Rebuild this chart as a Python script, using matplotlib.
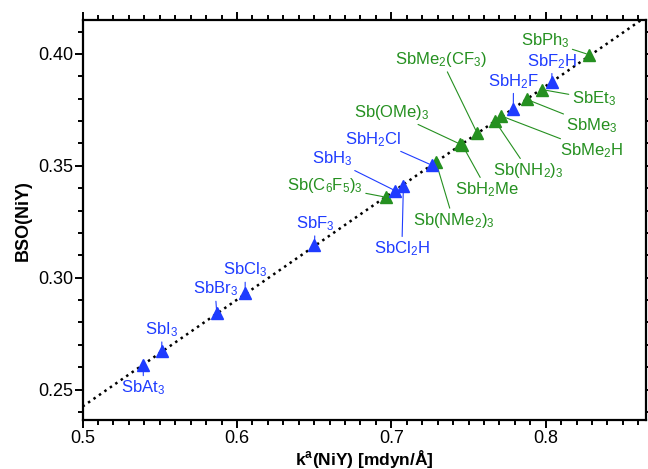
import numpy as np
import matplotlib
matplotlib.use('Agg')
import matplotlib.pyplot as plt
from matplotlib.ticker import MultipleLocator, FormatStrFormatter

plt.rcParams['font.family'] = ['Liberation Sans', 'DejaVu Sans']
plt.rcParams['mathtext.default'] = 'regular'
plt.rcParams['mathtext.fontset'] = 'custom'
plt.rcParams['mathtext.rm'] = 'Liberation Sans'
plt.rcParams['mathtext.bf'] = 'Liberation Sans:bold'

# blue set (halides / hydrides)
blue_names = ['SbF$_2$H', 'SbH$_2$F', 'SbH$_2$Cl', 'SbCl$_2$H', 'SbH$_3$',
              'SbF$_3$', 'SbCl$_3$', 'SbBr$_3$', 'SbI$_3$', 'SbAt$_3$']
blue_k = [0.804, 0.779, 0.7262, 0.7078, 0.7025, 0.6502, 0.6053, 0.5869, 0.5513, 0.5393]
blue_bso = [0.3876, 0.3752, 0.3503, 0.3409, 0.3389, 0.3145, 0.2930, 0.2841, 0.2671, 0.2609]
blue_lab_x = [0.804, 0.7791, 0.6884, 0.7068, 0.6614, 0.6506, 0.6053, 0.5858, 0.5513, 0.5393]
blue_lab_y = [0.3967, 0.3878, 0.3619, 0.3130, 0.3530, 0.3241, 0.3034, 0.2949, 0.2767, 0.2508]

# green set (organic substituents)
green_names = ['SbPh$_3$', 'SbEt$_3$', 'SbMe$_3$', 'SbMe$_2$H', 'Sb(NH$_2$)$_3$',
               'SbMe$_2$(CF$_3$)', 'Sb(OMe)$_3$', 'SbH$_2$Me', 'Sb(NMe$_2$)$_3$',
               'Sb(C$_6$F$_5$)$_3$']
green_k = [0.828, 0.7975, 0.7878, 0.7712, 0.7673, 0.7554, 0.7446, 0.7458, 0.7290, 0.6964]
green_bso = [0.3997, 0.3841, 0.3797, 0.3723, 0.3699, 0.3649, 0.3597, 0.3595, 0.3515, 0.3360]
green_lab_x = [0.7997, 0.831, 0.830, 0.830, 0.7889, 0.7324, 0.7003, 0.7619, 0.7402, 0.6571]
green_lab_y = [0.4060, 0.3800, 0.3681, 0.3567, 0.3478, 0.3975, 0.3740, 0.3394, 0.3256, 0.3412]

blue = '#1f3cff'
green = '#259020'

fig = plt.figure(figsize=(6.48, 4.69), dpi=100)
ax = fig.add_axes([0.1275, 0.104, 0.8695, 0.8534])

xmin, xmax = 0.5, 0.865
ymin, ymax = 0.2363, 0.4152

# linear fit through all points
all_k = np.array(blue_k + green_k)
all_bso = np.array(blue_bso + green_bso)
slope, icpt = np.polyfit(all_k, all_bso, 1)
xl = np.array([xmin, xmax])
ax.plot(xl, slope * xl + icpt, color='black', ls=':', lw=1.8, zorder=1)

for names, kx, ky, lx, ly, col in [
        (green_names, green_k, green_bso, green_lab_x, green_lab_y, green),
        (blue_names, blue_k, blue_bso, blue_lab_x, blue_lab_y, blue)]:
    ax.plot(kx, ky, '^', color=col, ms=8, mec=col, zorder=3, clip_on=False)
    for n, a, b, tx, ty in zip(names, kx, ky, lx, ly):
        ax.annotate(n, xy=(a, b), xytext=(tx, ty), color=col, fontsize=12,
                    ha='center', va='center',
                    arrowprops=dict(arrowstyle='-', color=col, lw=0.8,
                                    shrinkA=0, shrinkB=2))

ax.set_xlim(xmin, xmax)
ax.set_ylim(ymin, ymax)
ax.xaxis.set_major_locator(MultipleLocator(0.1))
ax.xaxis.set_minor_locator(MultipleLocator(0.01))
ax.yaxis.set_major_locator(MultipleLocator(0.05))
ax.yaxis.set_minor_locator(MultipleLocator(0.01))
ax.xaxis.set_major_formatter(FormatStrFormatter('%.1f'))
ax.yaxis.set_major_formatter(FormatStrFormatter('%.2f'))
ax.tick_params(which='both', direction='out', top=True, right=True, width=1.4,
               labelsize=13, pad=1.5)
ax.tick_params(which='major', length=5.5)
ax.tick_params(which='minor', length=3.5)
for s in ax.spines.values():
    s.set_linewidth(1.6)

ax.set_xlabel(r'k$^{\mathbf{a}}$(NiY) [mdyn/Å]', fontsize=12.5, fontweight='bold', labelpad=0.5)
ax.set_ylabel('BSO(NiY)', fontsize=13, fontweight='bold', labelpad=4)

fig.savefig('out.png', dpi=100)
